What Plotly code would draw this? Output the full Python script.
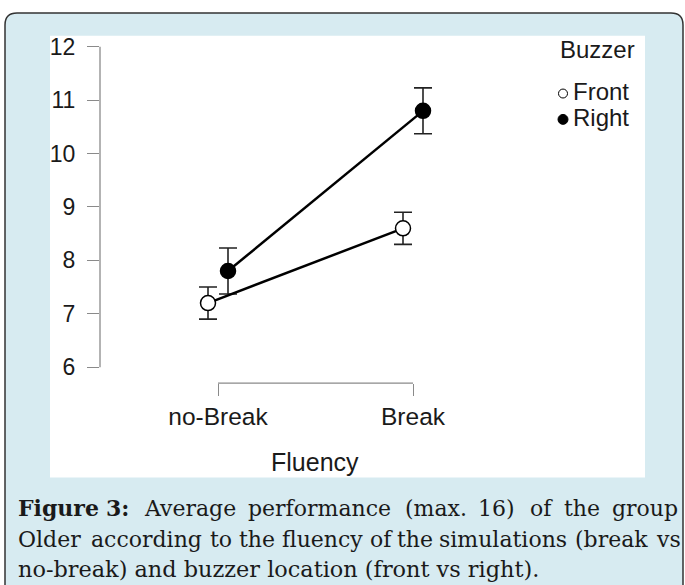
import plotly.graph_objects as go

# ---- data ----
categories = ["no-Break", "Break"]
front_mean = [7.2, 8.6]
front_err = [0.30, 0.30]
right_mean = [7.8, 10.8]
right_err = [0.43, 0.43]
y_ticks = [6, 7, 8, 9, 10, 11, 12]
series_names = ["Front", "Right"]

W, H = 685, 585
def X(px): return px / W
def Y(py): return 1 - py / H

# axis geometry (pixels)
cat_px = [218, 413]
unit_x = cat_px[1] - cat_px[0]
x_left, x_right = 100, 645
y6, y12 = 366, 44
unit_y = (y6 - y12) / 6.0
y_top, y_bot = 34, 382
dodge = 10 / unit_x

xr = [-(cat_px[0] - x_left) / unit_x, 1 + (x_right - cat_px[1]) / unit_x]
yr = [6 - (y_bot - y6) / unit_y, 12 + (y12 - y_top) / unit_y]

xi = list(range(len(categories)))
fig = go.Figure()
fig.add_trace(go.Scatter(
    x=[i + dodge for i in xi], y=right_mean, name=series_names[1],
    mode="lines+markers", cliponaxis=False,
    line=dict(color="black", width=2.5),
    marker=dict(symbol="circle", size=15, color="black", line=dict(color="black", width=1.5)),
    error_y=dict(type="data", array=right_err, color="#222", thickness=1.6, width=9),
))
fig.add_trace(go.Scatter(
    x=[i - dodge for i in xi], y=front_mean, name=series_names[0],
    mode="lines+markers", cliponaxis=False,
    line=dict(color="black", width=2.5),
    marker=dict(symbol="circle", size=15, color="white", line=dict(color="black", width=1.5)),
    error_y=dict(type="data", array=front_err, color="#222", thickness=1.6, width=9),
))

sans = "Liberation Sans, Arial, sans-serif"
blue = "#d7ebf1"

shapes = [
    # outer card with rounded corners
    dict(type="path", xref="paper", yref="paper", layer="below",
         path=f"M {X(5)},{Y(700)} L {X(5)},{Y(22)} Q {X(5)},{Y(10)} {X(17)},{Y(10)} "
              f"L {X(671)},{Y(10)} Q {X(683)},{Y(10)} {X(683)},{Y(22)} L {X(683)},{Y(700)} Z",
         fillcolor=blue, line=dict(color="#333333", width=1.5)),
    # white panel
    dict(type="rect", xref="paper", yref="paper", layer="below",
         x0=X(50), x1=X(645), y0=Y(477), y1=Y(33),
         fillcolor="white", line=dict(width=0)),
    # y axis line (6..12)
    dict(type="line", xref="paper", yref="y", x0=X(x_left), x1=X(x_left),
         y0=min(y_ticks), y1=max(y_ticks), line=dict(color="#8a8a8a", width=1.3)),
    # x axis bracket line
    dict(type="line", xref="x", yref="paper", x0=xi[0], x1=xi[-1],
         y0=Y(y_bot), y1=Y(y_bot), line=dict(color="#8a8a8a", width=1.3)),
    # legend symbols
    dict(type="circle", xref="paper", yref="paper",
         x0=X(563 - 4.5), x1=X(563 + 4.5), y0=Y(91 + 4.5), y1=Y(91 - 4.5),
         fillcolor="white", line=dict(color="black", width=1)),
    dict(type="circle", xref="paper", yref="paper",
         x0=X(563 - 5), x1=X(563 + 5), y0=Y(117 + 5), y1=Y(117 - 5),
         fillcolor="black", line=dict(color="black", width=1)),
]

ann = []
def add(text, x, y, size, xanchor="left", family=sans):
    ann.append(dict(text=text, x=X(x), y=Y(y), xref="paper", yref="paper",
                    xanchor=xanchor, yanchor="middle", showarrow=False,
                    font=dict(family=family, size=size, color="#1a1a1a")))

add("Buzzer", 558, 47, 24)
add(series_names[0], 571, 89, 24)
add(series_names[1], 571, 115, 24)
add("Fluency", 315, 461, 25, xanchor="center")

# caption (justified lines placed word by word)
serif = "DejaVu Serif, serif"
line1 = ["<b>Figure</b>", "<b>3:</b>", "Average", "performance", "(max.", "16)", "of", "the", "group"]
line1_x = [16, 104, 142, 246, 403, 476, 528, 562, 610]
line2 = ["Older", "according", "to", "the", "fluency", "of", "the", "simulations", "(break", "vs"]
line2_x = [16, 89, 208, 237, 280, 368, 395, 437, 573, 654]
for w, x in zip(line1, line1_x):
    add(w, x, 508, 22, family=serif)
for w, x in zip(line2, line2_x):
    add(w, x, 539, 22, family=serif)
add("no-break) and buzzer location (front vs right).", 16, 569, 22.4, family=serif)

fig.update_layout(
    width=W, height=H, margin=dict(l=0, r=0, t=0, b=0),
    paper_bgcolor="white", plot_bgcolor="rgba(0,0,0,0)",
    showlegend=False, shapes=shapes, annotations=ann,
    xaxis=dict(domain=[X(x_left), X(x_right)], range=xr, tickvals=xi, ticktext=categories,
               ticks="outside", ticklen=12, tickwidth=1.3, tickcolor="#8a8a8a",
               showline=False, showgrid=False, zeroline=False,
               tickfont=dict(family=sans, size=24.5, color="#1a1a1a"),
               ticklabelstandoff=0),
    yaxis=dict(domain=[Y(y_bot), Y(y_top)], range=yr, tickvals=y_ticks,
               ticks="outside", ticklen=12, tickwidth=1.3, tickcolor="#8a8a8a",
               showline=False, showgrid=False, zeroline=False,
               tickfont=dict(family=sans, size=23, color="#1a1a1a"),
               ticklabelstandoff=7),
)
fig.write_html("out.html", config={"displayModeBar": False},
               post_script="document.body.style.margin='0';document.body.style.overflow='hidden';")
